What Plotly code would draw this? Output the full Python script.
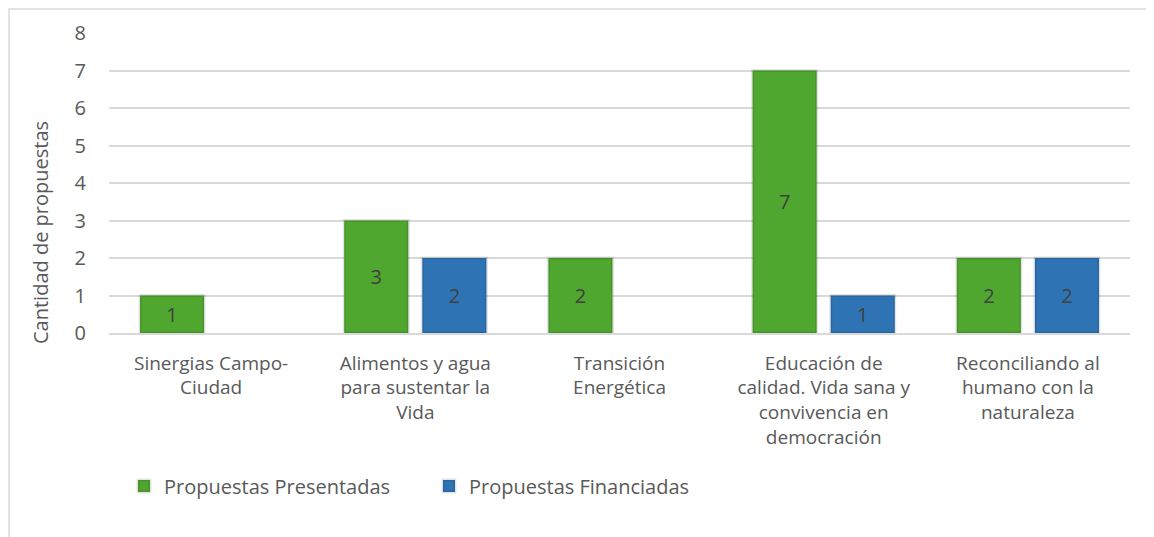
import plotly.graph_objects as go

categories = [
    "Sinergias Campo-<br>Ciudad",
    "Alimentos y agua<br>para sustentar la<br>Vida",
    "Transición<br>Energética",
    "Educación de<br>calidad. Vida sana y<br>convivencia en<br>democración",
    "Reconciliando al<br>humano con la<br>naturaleza",
]
presentadas = [1, 3, 2, 7, 2]
financiadas = [None, 2, None, 1, 2]
y_ticks = [0, 1, 2, 3, 4, 5, 6, 7, 8]

FONT = "Open Sans"
TEXT = "#595959"
GREEN = "#4fa72f"
BLUE = "#2e74b5"

# page body has an 8px margin, so the plot box is placed relative to that
L, R, T, B = 101, 1122, 25, 325
W, H = 1154, 537
PW, PH = R - L, B - T


def px_x(x):
    return (x - 8 - L) / PW


def px_y(y):
    return (B - (y - 8)) / PH


fig = go.Figure()
fig.add_trace(go.Bar(
    name="Propuestas Presentadas", x=categories, y=presentadas,
    marker=dict(color=GREEN, line=dict(color="rgba(0,0,0,0.11)", width=3)),
    text=presentadas, textposition="inside", insidetextanchor="middle",
    textfont=dict(color="#404040", size=20, family=FONT),
))
fig.add_trace(go.Bar(
    name="Propuestas Financiadas", x=categories, y=financiadas,
    marker=dict(color=BLUE, line=dict(color="rgba(0,0,0,0.11)", width=3)),
    text=financiadas, textposition="inside", insidetextanchor="middle",
    textfont=dict(color="#404040", size=20, family=FONT),
))

fig.update_layout(
    width=W, height=H,
    margin=dict(l=L, r=W - R, t=T, b=H - B),
    paper_bgcolor="white", plot_bgcolor="white",
    font=dict(family=FONT, color=TEXT, size=19),
    barmode="group", bargap=0.235, bargroupgap=0.18,
    uniformtext=dict(mode="show", minsize=10),
    legend=dict(orientation="h", x=px_x(124), y=px_y(486), xanchor="left", yanchor="middle",
                font=dict(size=20, color=TEXT), entrywidth=260, entrywidthmode="pixels",
                itemwidth=30, traceorder="normal"),
    showlegend=True,
)
fig.update_yaxes(range=[0, 8], tickvals=y_ticks, showgrid=True,
                 gridcolor="#d9d9d9", gridwidth=1.5, zeroline=False,
                 ticks="outside", ticklen=18, tickcolor="rgba(0,0,0,0)",
                 tickfont=dict(size=20, color=TEXT), fixedrange=True)
fig.update_xaxes(showline=True, linecolor="#d9d9d9", linewidth=1.5,
                 tickfont=dict(size=19, color=TEXT), ticks="outside",
                 ticklen=12, tickcolor="rgba(0,0,0,0)")

fig.add_annotation(text="Cantidad de propuestas", textangle=-90,
                   xref="paper", yref="paper", x=px_x(40), y=px_y(233),
                   xanchor="center", yanchor="middle",
                   showarrow=False, font=dict(size=20, color=TEXT))

# outer chart border
fig.add_shape(type="rect", xref="paper", yref="paper",
              x0=(1 - L) / PW, x1=(W + 10 - L) / PW,
              y0=(B - H - 10) / PH, y1=(B - 1) / PH,
              line=dict(color="#d9d9d9", width=1.5))

fig.write_html("out.html")
